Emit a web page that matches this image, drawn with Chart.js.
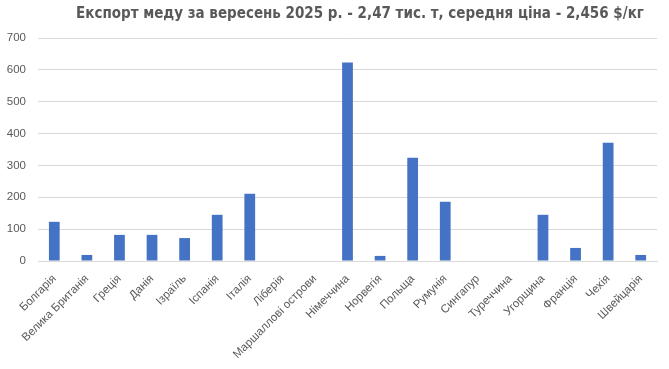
<!DOCTYPE html>
<html>
<head>
<meta charset="utf-8">
<script src="https://cdn.jsdelivr.net/npm/chart.js@4/dist/chart.umd.min.js"></script>
<style>
  body { margin: 0; background: #fff; }
  #wrap { width: 669px; height: 369px; }
</style>
</head>
<body>
<div id="wrap"><canvas id="honeyChart" width="669" height="369"></canvas></div>
<script>
// Експорт меду, вересень 2025
const countries = ['Болгарія', 'Велика Британія', 'Греція', 'Данія', 'Ізраїль', 'Іспанія', 'Італія',
    'Ліберія', 'Маршаллові острови', 'Німеччина', 'Норвегія', 'Польща', 'Румунія', 'Сингапур',
    'Туреччина', 'Угорщина', 'Франція', 'Чехія', 'Швейцарія'];
const volumes = [123, 19, 82, 82, 72, 145, 211, 0, 0, 623, 16, 324, 186, 0, 0, 145, 41, 371, 19];
const yTicks = [0, 100, 200, 300, 400, 500, 600, 700];

const titleText = 'Експорт меду за вересень 2025 р. - 2,47 тис. т, середня ціна - 2,456 $/кг';
const grey = '#595959';
const labelFont = '"Liberation Sans", sans-serif';

// title drawn by hand so it can sit off-centre like the original
const titlePlugin = {
    id: 'topTitle',
    afterDraw(chart) {
        const c = chart.ctx;
        c.save();
        c.font = 'bold 15px "Liberation Sans Narrow", "DejaVu Sans Condensed", sans-serif';
        c.fillStyle = grey;
        c.textAlign = 'left';
        c.textBaseline = 'alphabetic';
        c.fillText(titleText, 76, 18);
        c.restore();
    }
};

const ctx = document.getElementById('honeyChart').getContext('2d');
const honeyChart = new Chart(ctx, {
    type: 'bar',
    data: {
        labels: countries,
        datasets: [{
            label: 'Експорт',
            data: volumes,
            backgroundColor: '#4472c4',
            borderWidth: 0,
            barPercentage: 0.33,
            categoryPercentage: 1
        }]
    },
    options: {
        responsive: false,
        animation: false,
        layout: { padding: { left: 0, right: 12, top: 38, bottom: 0 } },
        plugins: {
            legend: { display: false },
            tooltip: { enabled: false },
            title: { display: false }
        },
        scales: {
            x: {
                grid: { display: false },
                border: { color: '#d9d9d9' },
                afterFit: axis => { axis.height = 108; },
                ticks: {
                    color: grey,
                    font: { family: labelFont, size: 11.5 },
                    autoSkip: false,
                    minRotation: 45,
                    maxRotation: 45
                }
            },
            y: {
                min: 0,
                max: 700,
                afterBuildTicks: axis => { axis.ticks = yTicks.map(v => ({ value: v })); },
                afterFit: axis => { axis.width = 38; },
                grid: { color: '#d9d9d9', drawTicks: false },
                border: { display: false },
                ticks: {
                    color: grey,
                    padding: 12,
                    font: { family: labelFont, size: 11.5 }
                }
            }
        }
    },
    plugins: [titlePlugin]
});
</script>
</body>
</html>
